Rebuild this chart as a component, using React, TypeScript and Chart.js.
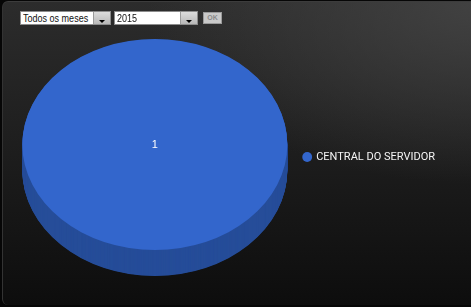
import React, { useEffect, useRef } from "react";
import { Chart, registerables } from "chart.js";

Chart.register(...registerables);

const categories = ["CENTRAL DO SERVIDOR"];
const values = [1];
const sliceColors = ["#3366cc"];
const sideColors = ["#264d99"];
const monthOptions = ["Todos os meses"];
const yearOptions = ["2015"];

const FONT = '"Liberation Sans", Arial, sans-serif';
const LEGEND_FONT = 'Roboto, "Liberation Sans", Arial, sans-serif';
const TILT = 0.796;
const DEPTH = 26;
const PIVOT_Y = 95.7;

const pie3d = {
  id: "pie3d",
  beforeDatasetsDraw(chart: any) {
    const ctx = chart.ctx;
    ctx.save();
    ctx.translate(0, PIVOT_Y);
    ctx.scale(1, TILT);
    ctx.translate(0, -PIVOT_Y);
    const meta = chart.getDatasetMeta(0);
    meta.data.forEach((el: any, i: number) => {
      const { x, y, startAngle, endAngle, outerRadius } = el.getProps(
        ["x", "y", "startAngle", "endAngle", "outerRadius"],
        true
      );
      ctx.fillStyle = sideColors[i % sideColors.length];
      for (let d = DEPTH; d >= 0.5; d -= 0.5) {
        const oy = y + d / TILT;
        ctx.beginPath();
        ctx.moveTo(x, oy);
        ctx.arc(x, oy, outerRadius, startAngle, endAngle);
        ctx.closePath();
        ctx.fill();
      }
    });
  },
  afterDatasetsDraw(chart: any) {
    const ctx = chart.ctx;
    ctx.restore();
    const meta = chart.getDatasetMeta(0);
    const data = chart.data.datasets[0].data as number[];
    ctx.save();
    ctx.fillStyle = "#ffffff";
    ctx.font = `11px ${FONT}`;
    ctx.textAlign = "center";
    ctx.textBaseline = "middle";
    meta.data.forEach((el: any, i: number) => {
      const { x, y, startAngle, endAngle, outerRadius } = el.getProps(
        ["x", "y", "startAngle", "endAngle", "outerRadius"],
        true
      );
      let px = x;
      let py = y;
      if (endAngle - startAngle < Math.PI * 2 - 1e-6) {
        const mid = (startAngle + endAngle) / 2;
        px = x + Math.cos(mid) * outerRadius * 0.6;
        py = y + Math.sin(mid) * outerRadius * 0.6;
      }
      const sy = PIVOT_Y + (py - PIVOT_Y) * TILT;
      ctx.fillText(String(data[i]), px, sy);
    });
    ctx.restore();
  },
};

function Select({ left, width, text }: { left: number; width: number; text: string }) {
  return (
    <div
      style={{
        position: "absolute",
        left,
        top: 11,
        width,
        height: 14,
        boxSizing: "border-box",
        border: "1px solid #8c8c8c",
        background: "#ffffff",
        display: "flex",
      }}
    >
      <div style={{ flex: 1, overflow: "hidden", position: "relative" }}>
        <span
          style={{
            position: "absolute",
            left: 2,
            top: 0,
            fontFamily: FONT,
            fontSize: 11,
            lineHeight: "12px",
            color: "#111",
            whiteSpace: "nowrap",
            transform: "scaleX(0.82)",
            transformOrigin: "0 0",
          }}
        >
          {text}
        </span>
      </div>
      <div
        style={{
          width: 17,
          height: 12,
          boxSizing: "border-box",
          background: "linear-gradient(#dcdcdc, #b8b8b8)",
          borderLeft: "1px solid #9a9a9a",
          position: "relative",
        }}
      >
        <div
          style={{
            position: "absolute",
            left: 5,
            bottom: 1,
            width: 0,
            height: 0,
            borderLeft: "3px solid transparent",
            borderRight: "3px solid transparent",
            borderTop: "3px solid #000",
          }}
        />
      </div>
    </div>
  );
}

export default function App() {
  const ref = useRef<HTMLCanvasElement>(null);
  useEffect(() => {
    document.body.style.margin = "0";
    const chart = new Chart(ref.current as HTMLCanvasElement, {
      type: "pie",
      data: {
        labels: categories,
        datasets: [
          {
            data: values,
            backgroundColor: sliceColors,
            borderWidth: 0,
            hoverOffset: 0,
            offset: 0,
            clip: false as any,
          },
        ],
      },
      options: {
        responsive: false,
        animation: false,
        events: [],
        layout: { padding: { left: 22, top: 24.5, bottom: 17.5, right: 26 } },
        plugins: {
          tooltip: { enabled: false },
          legend: {
            position: "right",
            labels: {
              usePointStyle: true,
              pointStyle: "circle",
              boxWidth: 7,
              boxHeight: 7,
              padding: 16,
              color: "#f4f4f4",
              font: { size: 11, family: LEGEND_FONT },
            },
          },
        },
      },
      plugins: [pie3d],
    });
    return () => chart.destroy();
  }, []);

  return (
    <div
      style={{
        position: "fixed",
        left: 0,
        top: 0,
        width: 471,
        height: 307,
        background: "#060606",
        overflow: "hidden",
      }}
    >
      <div
        style={{
          position: "absolute",
          left: 2,
          top: 1,
          width: 480,
          height: 304,
          borderRadius: 6,
          borderTop: "1px solid #3c3c3c",
          borderLeft: "1px solid #333",
          boxSizing: "border-box",
          background:
            "radial-gradient(ellipse 70% 60% at 100% 0%, rgba(68,68,68,0.9), rgba(40,40,40,0) 100%), linear-gradient(to bottom, #2c2c2c 0%, #1d1d1d 50%, #0d0d0d 100%)",
        }}
      />
      <canvas
        ref={ref}
        width={471}
        height={307}
        style={{ position: "absolute", left: 0, top: 0, width: 471, height: 307 }}
      />
      <Select left={20} width={91} text={monthOptions[0]} />
      <Select left={114} width={84} text={yearOptions[0]} />
      <div
        style={{
          position: "absolute",
          left: 203,
          top: 12,
          width: 19,
          height: 12,
          boxSizing: "border-box",
          border: "1px solid #9a9a9a",
          background: "#c9c9c9",
          color: "#8a8a8a",
          fontFamily: FONT,
          fontSize: 7,
          fontWeight: "bold",
          lineHeight: "10px",
          textAlign: "center",
        }}
      >
        OK
      </div>
    </div>
  );
}
